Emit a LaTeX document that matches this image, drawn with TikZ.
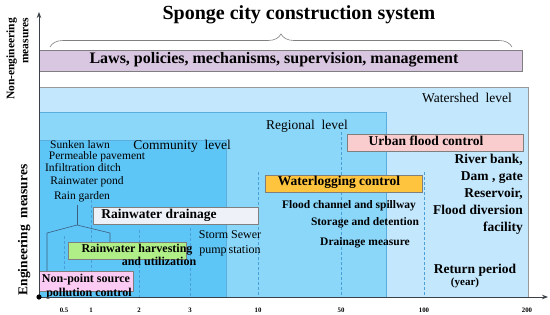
\documentclass[tikz,border=0pt]{standalone}
\usepackage{fontspec}
\setmainfont{Liberation Serif}
\usetikzlibrary{decorations.pathreplacing,arrows.meta}
\definecolor{watershed}{HTML}{C3E7FD}
\definecolor{regional}{HTML}{8BD7FA}
\definecolor{community}{HTML}{5EC5F7}
\definecolor{lawsfill}{HTML}{D9C6E1}
\definecolor{urbanfill}{HTML}{F9CDCD}
\definecolor{waterfill}{HTML}{FFC43D}
\definecolor{drainfill}{HTML}{EEF2F8}
\definecolor{harvfill}{HTML}{B0EE88}
\definecolor{npsfill}{HTML}{FBCBF3}
\definecolor{edgegray}{HTML}{7F7F7F}
\definecolor{dashblue}{HTML}{4A9FD8}
\definecolor{treeline}{HTML}{3D5F80}
\definecolor{zoneedge}{HTML}{5AAEDD}
\definecolor{axisgray}{HTML}{3A4048}
\begin{document}
\begin{tikzpicture}[x=1pt,y=-1pt,
  box/.style={draw=edgegray, line width=0.7pt},
  lbl/.style={inner sep=0pt, text height=0.68em, text depth=0.2em},
  reg/.style={lbl, font=\fontsize{#1}{#1}\selectfont},
  bld/.style={lbl, font=\fontsize{#1}{#1}\selectfont\bfseries},
  dashline/.style={draw=dashblue, dash pattern=on 3pt off 2pt, line width=0.6pt},
  tick/.style={lbl, font=\fontsize{6.8}{6.8}\selectfont\bfseries},
  treestyle/.style={draw=treeline, line width=0.6pt},
  axisarrow/.style={-{Stealth[length=6pt,width=4.5pt]}, line width=1pt, draw=axisgray}]
\useasboundingbox (0,0) rectangle (550,314);
\fill[white] (0,0) rectangle (550,314);

% title and brace
\node[bld=20] (title) at (299,17) {Sponge city construction system};
\draw[decorate, decoration={brace, amplitude=13pt}, draw=gray, line width=0.6pt] (50,47) -- (512,47);

% laws box
\path[box, fill=lawsfill] (39,50) rectangle (522,71);
\node[bld=16] (laws) at (274,61) {Laws, policies, mechanisms, supervision, management};

% zones
\path[fill=watershed, draw=edgegray!80, line width=0.6pt] (39,87) rectangle (528,297);
\path[fill=regional, draw=zoneedge, line width=0.4pt] (39,112) rectangle (386,297);
\path[fill=community, draw=zoneedge, line width=0.4pt] (39,140) rectangle (226,297);

\node[reg=13.5] (wsl) at (467,100) {Watershed\ \ level};
\node[reg=13.5] (rgl) at (307,127) {Regional\ \ level};
\node[reg=13.5] (cml) at (182,147) {Community\ \ level};

% dashed period lines
\draw[dashline] (64,236) -- (64,297);
\draw[dashline] (91,200) -- (91,297);
\draw[dashline] (139,230) -- (139,297);
\draw[dashline] (190,228) -- (190,297);
\draw[dashline] (258,172) -- (258,297);
\draw[dashline] (341,132) -- (341,297);
\draw[dashline] (424,172) -- (424,297);

% community measures
\node[reg=11.5] (sunken) at (80,146) {Sunken lawn};
\node[reg=11.5] (perm) at (97,157) {Permeable pavement};
\node[reg=11.5] (infil) at (83,169) {Infiltration ditch};
\node[reg=11.5] (pond) at (87,182) {Rainwater pond};
\node[reg=11.5] (garden) at (82,197) {Rain garden};

% tree lines
\coordinate (tj) at (77,225);
\coordinate (tl) at (47,233);
\coordinate (tr) at (110,233);
\draw[treestyle] (garden.south -| tj) ++(0,3) -- (tj);
\draw[treestyle] (tj) -- (tl) -- (47,271);
\draw[treestyle] (tj) -- (tr) -- (110,242);

% boxes
\path[box, fill=urbanfill] (347,134) rectangle (523,151);
\node[bld=13.5] (urban) at (426,143) {Urban flood control};
\path[box, fill=waterfill] (265,175) rectangle (422,192);
\node[bld=13.5] (waterlog) at (339,183) {Waterlogging control};
\path[box, fill=drainfill] (93,207) rectangle (258,224);
\node[bld=13.5] (drain) at (159,216) {Rainwater drainage};
\path[box, fill=harvfill] (68,242) rectangle (186,259);
\node[bld=12] (harv) at (137,250) {Rainwater harvesting};
\node[bld=12] (util) at (159,263) {and utilization};
\path[box, fill=npsfill] (39,271) rectangle (133,291);
\node[bld=12] (nps) at (86,280) {Non-point source};
\node[bld=12] (poll) at (89,294) {pollution control};

% other labels
\node[reg=12] (storm) at (230,236) {Storm Sewer};
\node[reg=12] (pump) at (230,251) {pump\,station};
\node[bld=11.5] (fcs) at (349,206) {Flood channel and spillway};
\node[bld=11.5] (sad) at (365,223) {Storage and detention};
\node[bld=11.5] (dm) at (365,243) {Drainage measure};
\node[bld=13.5, anchor=east] (rb) at (523,161) {River bank,};
\node[bld=13.5, anchor=east] (dg) at (523,178) {Dam , gate};
\node[bld=13.5, anchor=east] (res) at (523,195) {Reservoir,};
\node[bld=13.5, anchor=east] (fd) at (523,212) {Flood diversion};
\node[bld=13.5, anchor=east] (fac) at (523,229) {facility};
\node[bld=13.5] (rp) at (475,271) {Return period};
\node[bld=11] (yr) at (465,283) {(year)};

% axes
\coordinate (O) at (39,297);
\coordinate (xend) at (548,297);
\coordinate (yend) at (39,12);
\draw[axisarrow] (O) -- (xend);
\draw[axisarrow] (O) -- (yend);
\fill[black] (O) circle (2.6pt);

% tick labels
\node[tick] (t05) at (64,310) {0.5};
\node[tick] (t1) at (91,310) {1};
\node[tick] (t2) at (139,310) {2};
\node[tick] (t3) at (190,310) {3};
\node[tick] (t10) at (258,310) {10};
\node[tick] (t50) at (341,310) {50};
\node[tick] (t100) at (424,310) {100};
\node[tick] (t200) at (527,310) {200};

% axis titles
\node[bld=11.5, rotate=90] (neng) at (12,59) {Non-engineering};
\node[bld=11.5, rotate=90] (nmeas) at (26,41) {measures};
\node[bld=13.5, rotate=90] (eng) at (25,230) {Engineering\ \ measures};
\end{tikzpicture}
\end{document}
